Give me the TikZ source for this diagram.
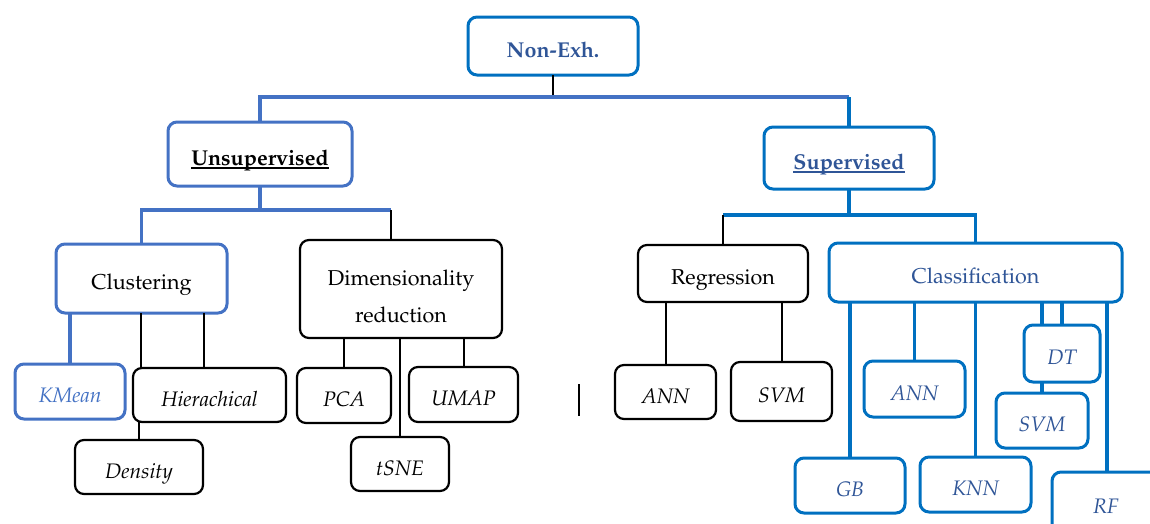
\documentclass[tikz,border=0pt]{standalone}
\usepackage[T1]{fontenc}
\renewcommand{\rmdefault}{ppl}
\usetikzlibrary{calc}
\definecolor{lblue}{HTML}{4472C4}
\definecolor{dblue}{HTML}{0070C0}
\definecolor{tblue}{HTML}{2F5597}
\newcommand{\mybox}[7]{\node[#6, minimum width={(#4-#2)*1pt}, minimum height={(#5-#3)*1pt}] (#1) at ({(#2+#4)/2},{(#3+#5)/2}) {#7};}
\newcommand{\myul}[1]{\setbox0\hbox{#1}\rlap{\rule[-3.5pt]{\wd0}{1.3pt}}\box0}
\begin{document}
\begin{tikzpicture}[x=1pt,y=-1pt,
  boxbase/.style={draw, rounded corners=9pt, inner sep=0pt, outer sep=0pt, font=\fontsize{21.5}{26}\selectfont},
  sl/.style={text height=22pt, text depth=0pt},
  bbox/.style={boxbase, sl, draw=black, line width=2.2pt},
  lbox/.style={boxbase, sl, draw=lblue, line width=3pt},
  dbox/.style={boxbase, sl, draw=dblue, line width=3pt},
  it/.style={font=\fontsize{21}{26}\selectfont\itshape},
  lconn/.style={draw=lblue, line width=3.2pt},
  dconn/.style={draw=dblue, line width=3.2pt},
  bconn/.style={draw=black, line width=2pt},
]
\useasboundingbox (0,0) rectangle (1150,523);
\clip (0,0) rectangle (1150,523);

% top levels
\mybox{ne}{468}{17}{638}{75}{dbox}{\bfseries\color{tblue}Non-Exh.}
\mybox{uns}{168}{122}{352}{186}{lbox}{\bfseries\myul{Unsupervised}}
\mybox{sup}{764}{127}{934}{189}{dbox}{\color{tblue}\bfseries\myul{Supervised}}

% second level
\mybox{clus}{56}{244}{227}{313}{lbox}{Clustering}
\node[boxbase, draw=black, line width=2.2pt, align=center, minimum width=202pt, minimum height=98pt,
  font=\fontsize{21.5}{37}\selectfont] (dim) at (401,289) {\rule{0pt}{30pt}Dimensionality\\reduction};
\mybox{reg}{638}{245}{808}{302}{bbox}{Regression}
\mybox{cls}{829}{243}{1122}{302}{dbox}{\color{tblue}Classification}

% leaves left
\mybox{kmean}{15}{364}{125}{419}{lbox,it}{\color{lblue}KMean}
\mybox{hier}{133}{368}{286}{422}{bbox,it}{Hierachical}
\mybox{dens}{75}{440}{203}{494}{bbox,it}{Density}
\mybox{pca}{297}{368}{391}{423}{bbox,it}{PCA}
\mybox{umap}{409}{367}{518}{422}{bbox,it}{UMAP}
\mybox{tsne}{351}{437}{449}{491}{bbox,it}{tSNE}

% leaves right
\mybox{rann}{615}{365}{716}{419}{bbox,it}{ANN}
\mybox{rsvm}{731}{362}{832}{421}{bbox,it}{SVM}
\mybox{cann}{864}{361}{965}{417}{dbox,it}{\color{tblue}ANN}
\mybox{dt}{1024}{325}{1100}{382}{dbox,it}{\color{tblue}DT}
\mybox{csvm}{996}{393}{1088}{448}{dbox,it}{\color{tblue}SVM}
\mybox{gb}{795}{458}{905}{513}{dbox,it}{\color{tblue}GB}
\mybox{knn}{920}{457}{1031}{512}{dbox,it}{\color{tblue}KNN}
\mybox{rf}{1052}{472}{1160}{532}{dbox,it}{\color{tblue}RF}

% helper coordinates
\coordinate (h0) at (0,97);
\coordinate (h1) at (0,210);
\coordinate (h2) at (0,215);
\coordinate (dimx) at (391,0);
\coordinate (hx1) at (141,0);
\coordinate (hx2) at (204,0);
\coordinate (dtx) at (1042,0);
\coordinate (rfx) at (1107,0);
\coordinate (s1) at (579,384);
\coordinate (s2) at (579,416);

% connectors
\draw[bconn] (ne.south) -- (ne.south |- h0);
\draw[lconn] (uns.north) |- (h0 -| sup.north);
\draw[dconn] (h0 -| sup.north) -- (sup.north);

\draw[lconn] (uns.south) -- (uns.south |- h1);
\draw[lconn] (clus.north) |- (h1 -| dimx);
\draw[bconn] (h1 -| dimx) -- (dim.north -| dimx);

\draw[dconn] (sup.south) -- (sup.south |- h2);
\draw[dconn] (h2 -| reg.north) -- (h2 -| cls.north) -- (cls.north);
\draw[bconn] (h2 -| reg.north) -- (reg.north);

\draw[lconn] (clus.south -| kmean.north) -- (kmean.north);
\draw[bconn] (clus.south -| hx1) -- (hier.north -| hx1);
\draw[bconn] (clus.south -| hx2) -- (hier.north -| hx2);
\draw[bconn] (hier.south -| dens.north) -- (dens.north);

\draw[bconn] (dim.south -| pca.north) -- (pca.north);
\draw[bconn] (dim.south -| tsne.north) -- (tsne.north);
\draw[bconn] (dim.south -| umap.north) -- (umap.north);

\draw[bconn] (reg.south -| rann.north) -- (rann.north);
\draw[bconn] (reg.south -| rsvm.north) -- (rsvm.north);

\draw[dconn] (cls.south -| gb.north) -- (gb.north);
\draw[dconn] (cls.south -| cann.north) -- (cann.north);
\draw[dconn] (cls.south -| knn.north) -- (knn.north);
\draw[dconn] (cls.south -| dtx) -- (dt.north -| dtx);
\draw[dconn] (cls.south -| dt.north) -- (dt.north);
\draw[dconn] (dt.south -| csvm.north) -- (csvm.north);
\draw[dconn] (cls.south -| rfx) -- (rf.north -| rfx);

\draw[black, line width=1.2pt] (s1) -- (s2);
\end{tikzpicture}
\end{document}
